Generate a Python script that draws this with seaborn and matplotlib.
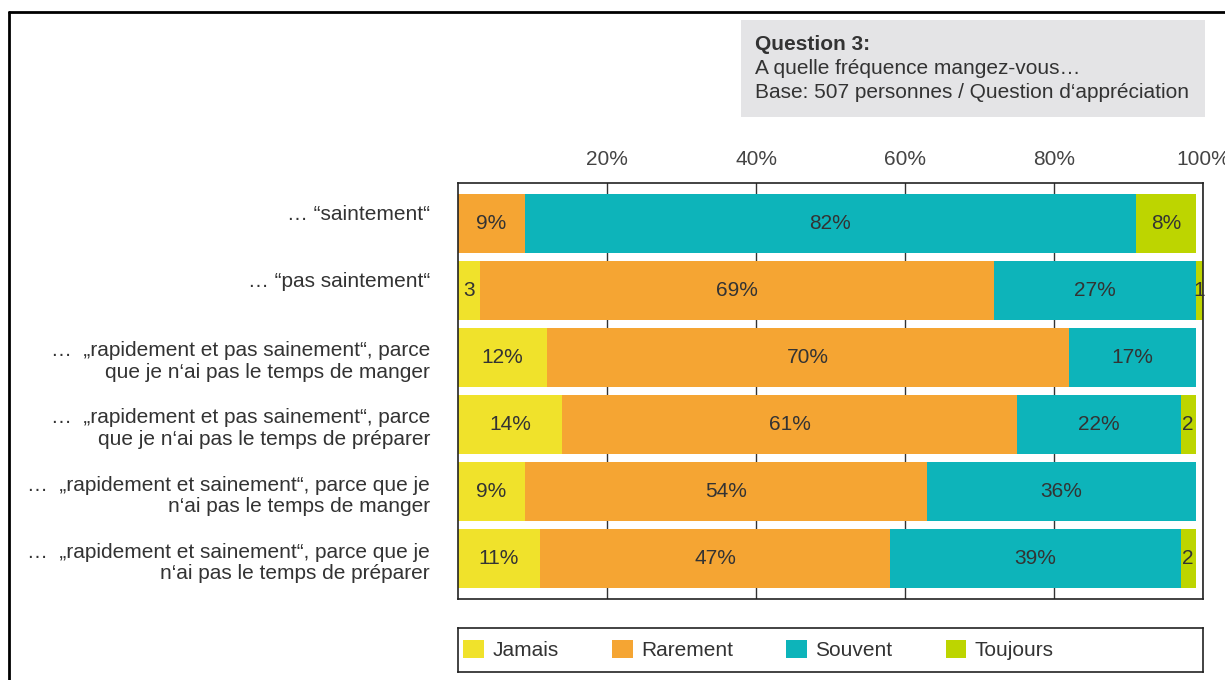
import matplotlib
matplotlib.use("Agg")
import matplotlib.pyplot as plt
from matplotlib.patches import Rectangle, Patch
from matplotlib.lines import Line2D
from matplotlib.transforms import ScaledTranslation
import numpy as np
import pandas as pd
import seaborn as sns

# Survey rows (top to bottom)
categories = [
    "… “saintement“",
    "… “pas saintement“",
    "…  „rapidement et pas sainement“, parce\nque je n‘ai pas le temps de manger",
    "…  „rapidement et pas sainement“, parce\nque je n‘ai pas le temps de préparer",
    "…  „rapidement et sainement“, parce que je\nn‘ai pas le temps de manger",
    "…  „rapidement et sainement“, parce que je\nn‘ai pas le temps de préparer",
]

# Share of answers per frequency level (%)
jamais = [0, 3, 12, 14, 9, 11]
rarement = [9, 69, 70, 61, 54, 47]
souvent = [82, 27, 17, 22, 36, 39]
toujours = [8, 1, 0, 2, 0, 2]

series_names = ["Jamais", "Rarement", "Souvent", "Toujours"]
series_colors = ["#F0E22B", "#F5A533", "#0DB4BA", "#BDD500"]

tick_values = [20, 40, 60, 80, 100]
tick_labels = ["20%", "40%", "60%", "80%", "100%"]

title_lines = ["Question 3:", "A quelle fréquence mangez-vous…",
               "Base: 507 personnes / Question d‘appréciation"]

sns.set_style("white")
plt.rcParams["font.family"] = ["Liberation Sans", "DejaVu Sans"]
text_color = "#333333"

df = pd.DataFrame({"cat": categories, "Jamais": jamais, "Rarement": rarement,
                   "Souvent": souvent, "Toujours": toujours})
cum = df[series_names].cumsum(axis=1)

W, H = 1225, 680
fig = plt.figure(figsize=(W / 100, H / 100), dpi=100)

ax = fig.add_axes([458 / W, 1 - 599 / H, 745 / W, 416 / H])

# Stacked bars: draw cumulative totals from the outermost level inwards
for name, color in reversed(list(zip(series_names, series_colors))):
    sns.barplot(x=cum[name], y=df["cat"], color=color, saturation=1,
                width=0.88, linewidth=0, orient="h", ax=ax, zorder=2)

# Segment labels
for i in range(len(categories)):
    start = 0
    for name in series_names:
        v = df.loc[i, name]
        if v > 0:
            label = f"{v}%" if v >= 5 else f"{v}"
            ax.text(start + v / 2, i, label, ha="center", va="center",
                    fontsize=15, color=text_color, zorder=3)
        start += v

ax.set_xlim(0, 100)
ax.set_ylim(5.6, -0.6)
ax.xaxis.tick_top()
ax.set_xticks(tick_values)
ax.set_xticklabels(tick_labels)
ax.set_xlabel("")
ax.set_ylabel("")
ax.tick_params(axis="x", length=0, pad=10, labelsize=15, labelcolor="#444444")
ax.tick_params(axis="y", length=0, labelleft=False)
ax.grid(axis="x", color="#333333", linewidth=1, zorder=0)
ax.grid(axis="y", visible=False)
ax.set_axisbelow(True)
for sp in ax.spines.values():
    sp.set_visible(True)
    sp.set_color("#222222")
    sp.set_linewidth(1.2)

# Row labels, right-aligned left of the plot; one-line labels sit a bit higher
ytrans = ax.get_yaxis_transform()
for i, cat in enumerate(categories):
    dy = 9 if "\n" not in cat else -4
    tr = ytrans + ScaledTranslation(-28 / 100, dy / 100, fig.dpi_scale_trans)
    ax.text(0, i, cat, transform=tr, ha="right", va="center",
            multialignment="right", fontsize=15, color=text_color,
            linespacing=1.15)

# Legend box below the chart
lax = fig.add_axes([458 / W, 1 - 672 / H, 745 / W, 44 / H])
lax.set_xticks([])
lax.set_yticks([])
for sp in lax.spines.values():
    sp.set_color("#222222")
    sp.set_linewidth(1.2)
handles = [Patch(facecolor=c, edgecolor="none", label=n)
           for n, c in zip(series_names, series_colors)]
lax.legend(handles=handles, loc="center left", ncol=4, frameon=False,
           fontsize=15, handlelength=1.0, handleheight=1.0,
           handletextpad=0.4, columnspacing=2.55, borderaxespad=0.0,
           bbox_to_anchor=(-0.004, 0.5), labelcolor=text_color)

# Question box
fig.patches.append(Rectangle((741 / W, 1 - 117 / H), 464 / W, 97 / H,
                             transform=fig.transFigure, facecolor="#E4E4E6",
                             edgecolor="none", zorder=0))
fig.text(755 / W, 1 - 44 / H, title_lines[0], fontsize=15, fontweight="bold",
         color=text_color, va="center", ha="left")
fig.text(755 / W, 1 - 68 / H, title_lines[1], fontsize=15,
         color=text_color, va="center", ha="left")
fig.text(755 / W, 1 - 93 / H, title_lines[2], fontsize=15,
         color=text_color, va="center", ha="left")

# Page frame (top and left edges)
fig.add_artist(Line2D([9 / W, 1.0], [1 - 12 / H, 1 - 12 / H],
                      transform=fig.transFigure, color="black", linewidth=2))
fig.add_artist(Line2D([9 / W, 9 / W], [1 - 12 / H, 0.0],
                      transform=fig.transFigure, color="black", linewidth=2))

fig.savefig("out.png", dpi=100)
